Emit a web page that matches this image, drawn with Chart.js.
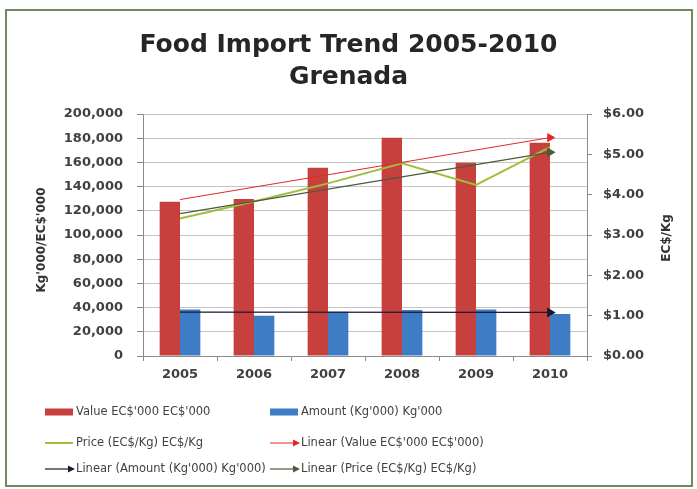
<!DOCTYPE html>
<html>
<head>
<meta charset="utf-8">
<script src="https://cdn.jsdelivr.net/npm/chart.js@4.4.1/dist/chart.umd.min.js"></script>
<style>
  html, body { margin: 0; padding: 0; background: #fff; }
  #wrap { position: relative; width: 697px; height: 489px; }
</style>
</head>
<body>
<div id="wrap"><canvas id="myChart" width="697" height="489"></canvas></div>
<script>
// data
const years = ['2005', '2006', '2007', '2008', '2009', '2010'];
const valueEC = [127500, 129700, 155600, 180400, 159800, 176300];
const amountKg = [38500, 33300, 36600, 38000, 38500, 34700];
const priceKg = [3.41, 3.83, 4.28, 4.78, 4.24, 5.18];
// trendlines: only the start and end points, as drawn
const valueTrend = [129300, null, null, null, null, 180500];
const amountTrend = [36300, null, null, null, null, 36000];
const priceTrend = [3.53, null, null, null, null, 5.05];
const leftTicks = [0, 20000, 40000, 60000, 80000, 100000, 120000, 140000, 160000, 180000, 200000];
const rightTicks = [0, 1, 2, 3, 4, 5, 6];

const FONT = "'DejaVu Sans', sans-serif";
const textColor = '#404040';
const gridColor = '#c4c4c4';
const axisColor = '#8c8c8c';

// arrow head only on the last point of a trendline
const arrowRadius = (ctx) => ctx.dataIndex === years.length - 1 ? 4.5 : 0;

// custom drawing: frame, axis titles, two-column legend
const extras = {
  id: 'extras',
  beforeDraw(chart) {
    const ctx = chart.ctx;
    ctx.save();
    ctx.strokeStyle = '#6f8a5c';
    ctx.lineWidth = 2;
    ctx.strokeRect(6, 10, 686, 476);
    ctx.restore();
  },
  afterDraw(chart) {
    const ctx = chart.ctx;
    ctx.save();
    ctx.fillStyle = '#333';
    ctx.font = 'bold 12px ' + FONT;
    ctx.textAlign = 'center';
    ctx.textBaseline = 'middle';
    // both axis titles read bottom to top
    ctx.translate(42, 240);
    ctx.rotate(-Math.PI / 2);
    ctx.fillText("Kg'000/EC$'000", 0, 0);
    ctx.setTransform(1, 0, 0, 1, 0, 0);
    ctx.scale(chart.currentDevicePixelRatio, chart.currentDevicePixelRatio);
    ctx.translate(667, 238);
    ctx.rotate(-Math.PI / 2);
    ctx.fillText('EC$/Kg', 0, 0);
    ctx.restore();

    // legend
    const colX = [45, 270];
    const rowY = [412, 443, 469];
    ctx.save();
    ctx.font = '11.5px ' + FONT;
    ctx.textBaseline = 'middle';
    ctx.fillStyle = textColor;
    chart.data.datasets.forEach((ds, i) => {
      const x = colX[i % 2];
      const y = rowY[Math.floor(i / 2)];
      if (ds.type === 'bar') {
        ctx.fillStyle = ds.backgroundColor;
        ctx.fillRect(x, y - 3.5, 28, 7);
      } else {
        ctx.strokeStyle = ds.borderColor;
        ctx.lineWidth = ds.borderWidth;
        ctx.beginPath();
        ctx.moveTo(x, y);
        ctx.lineTo(x + 28, y);
        ctx.stroke();
        if (ds.isTrend) {
          ctx.fillStyle = ds.borderColor;
          ctx.beginPath();
          ctx.moveTo(x + 30, y);
          ctx.lineTo(x + 23, y - 3.5);
          ctx.lineTo(x + 23, y + 3.5);
          ctx.closePath();
          ctx.fill();
        }
      }
      ctx.fillStyle = textColor;
      ctx.fillText(ds.label, x + 31, y);
    });
    ctx.restore();
  }
};

const ctx = document.getElementById('myChart').getContext('2d');
new Chart(ctx, {
  type: 'bar',
  data: {
    labels: years,
    datasets: [
      {
        type: 'bar',
        label: "Value EC$'000 EC$'000",
        data: valueEC,
        backgroundColor: '#c8403e',
        yAxisID: 'y',
        order: 2,
        barPercentage: 1.0,
        categoryPercentage: 0.55
      },
      {
        type: 'bar',
        label: "Amount (Kg'000) Kg'000",
        data: amountKg,
        backgroundColor: '#3f7cc6',
        yAxisID: 'y',
        order: 2,
        barPercentage: 1.0,
        categoryPercentage: 0.55
      },
      {
        type: 'line',
        label: 'Price (EC$/Kg) EC$/Kg',
        data: priceKg,
        borderColor: '#9fbf3f',
        borderWidth: 2,
        pointRadius: 0,
        yAxisID: 'y1',
        order: 1
      },
      {
        type: 'line',
        label: "Linear (Value EC$'000 EC$'000)",
        data: valueTrend,
        isTrend: true,
        borderColor: '#e02828',
        backgroundColor: '#e02828',
        borderWidth: 1,
        spanGaps: true,
        pointStyle: 'triangle',
        pointRotation: 90,
        pointRadius: arrowRadius,
        yAxisID: 'y',
        order: 0
      },
      {
        type: 'line',
        label: "Linear (Amount (Kg'000) Kg'000)",
        data: amountTrend,
        isTrend: true,
        borderColor: '#1a1a33',
        backgroundColor: '#1a1a33',
        borderWidth: 1.2,
        spanGaps: true,
        pointStyle: 'triangle',
        pointRotation: 90,
        pointRadius: arrowRadius,
        yAxisID: 'y',
        order: 0
      },
      {
        type: 'line',
        label: 'Linear (Price (EC$/Kg) EC$/Kg)',
        data: priceTrend,
        isTrend: true,
        borderColor: '#4e5a3a',
        backgroundColor: '#4e5a3a',
        borderWidth: 1.2,
        spanGaps: true,
        pointStyle: 'triangle',
        pointRotation: 90,
        pointRadius: arrowRadius,
        yAxisID: 'y1',
        order: 0
      }
    ]
  },
  options: {
    responsive: false,
    animation: false,
    layout: { padding: 0 },
    plugins: {
      legend: { display: false },
      tooltip: { enabled: false },
      title: {
        display: true,
        text: ['Food Import Trend 2005-2010', 'Grenada'],
        color: '#262626',
        font: { family: FONT, size: 25, weight: 'bold', lineHeight: 1.3 },
        padding: { top: 29, bottom: 20 }
      }
    },
    scales: {
      x: {
        grid: { offset: true, drawOnChartArea: false, color: axisColor, tickLength: 5 },
        border: { color: axisColor },
        ticks: { color: textColor, padding: 6, font: { family: FONT, size: 13, weight: 'bold' } },
        afterFit: (scale) => { scale.height = 133; }
      },
      y: {
        position: 'left',
        min: 0,
        max: 200000,
        afterBuildTicks: (scale) => { scale.ticks = leftTicks.map(v => ({ value: v })); },
        grid: { color: gridColor, tickLength: 6, tickColor: axisColor },
        border: { color: axisColor },
        ticks: {
          color: textColor,
          padding: 14,
          font: { family: FONT, size: 13, weight: 'bold' },
          callback: (v) => v.toLocaleString('en-US')
        },
        afterFit: (scale) => { scale.width = 143; }
      },
      y1: {
        position: 'right',
        min: 0,
        max: 6,
        afterBuildTicks: (scale) => { scale.ticks = rightTicks.map(v => ({ value: v })); },
        grid: { drawOnChartArea: false, color: axisColor, tickLength: 5 },
        border: { color: axisColor },
        ticks: {
          color: textColor,
          padding: 11,
          font: { family: FONT, size: 13, weight: 'bold' },
          callback: (v) => '$' + v.toFixed(2)
        },
        afterFit: (scale) => { scale.width = 110; }
      }
    }
  },
  plugins: [extras]
});
</script>
</body>
</html>
